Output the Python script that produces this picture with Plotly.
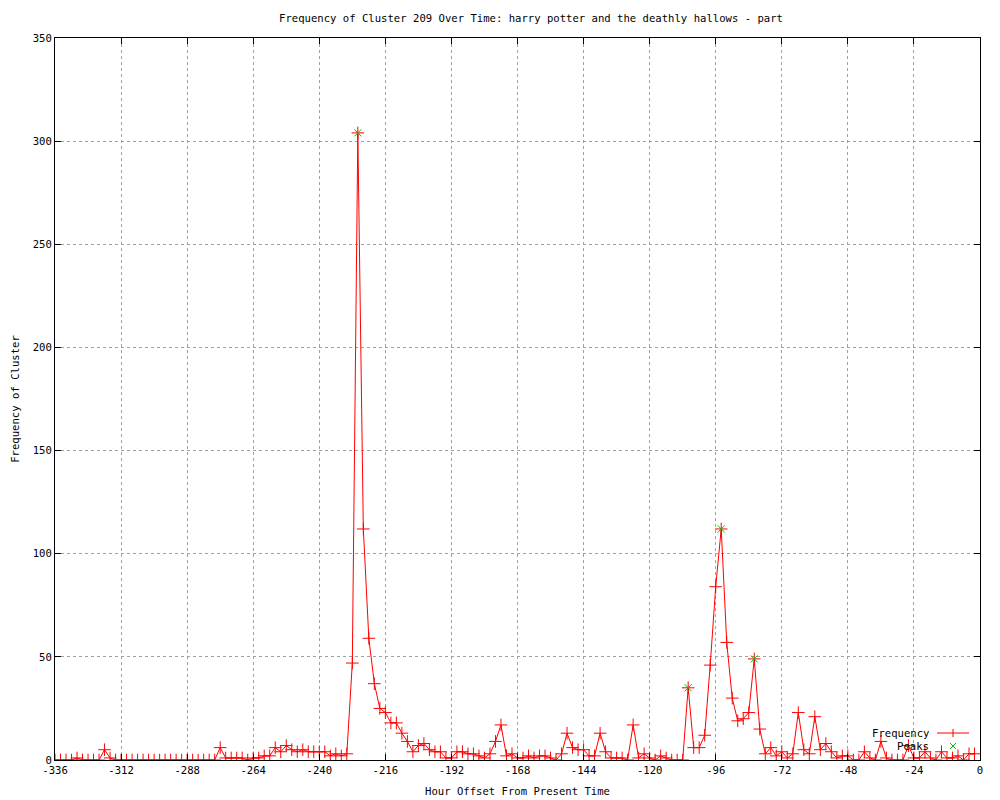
import plotly.graph_objects as go

hours = list(range(-336, 0, 2))
frequency = [
    0, 0, 0, 0, 1, 0, 0, 0, 0, 5, 1, 0, 0,            # -336 .. -312
    0, 0, 0, 0, 0, 0, 0, 0, 0, 0, 0, 0, 0, 0, 0, 0, 0,  # -310 .. -278
    6, 1, 1, 1, 1, 0, 1, 1, 2, 2, 6, 4, 7, 5, 4, 5,     # -276 .. -246
    4, 4, 4, 4, 2, 3, 2, 3, 47, 304, 112, 59, 37, 25,   # -244 .. -218
    23, 18, 18, 13, 9, 4, 7, 8, 5, 4, 4, 1, 1, 4, 4,    # -216 .. -188
    3, 3, 2, 1, 3, 9, 17, 2, 3, 1, 1, 2, 1, 2, 2, 1,    # -186 .. -156
    0, 3, 13, 6, 5, 5, 2, 2, 13, 4, 1, 1, 1, 0, 17, 1,  # -154 .. -124
    3, 1, 0, 2, 1, 0, 0, 0, 35, 6, 6, 12, 46, 84, 112,  # -122 .. -94
    57, 30, 19, 20, 23, 49, 15, 3, 6, 2, 4, 1, 3, 23,   # -92 .. -66
    5, 3, 21, 5, 8, 4, 1, 2, 2, 0, 0, 4, 1, 0, 9, 1,    # -64 .. -34
    0, 0, 0, 7, 1, 1, 4, 1, 0, 4, 1, 1, 2, 0, 3, 3,     # -32 .. -2
]
peak_hours = [-226, -106, -94, -82]
peak_values = [304, 35, 112, 49]

x_ticks = list(range(-336, 1, 24))
y_ticks = list(range(0, 351, 50))

title_text = "Frequency of Cluster 209 Over Time: harry potter and the deathly hallows - part"
FONT = "DejaVu Sans Mono"
FS = 10.6

fig = go.Figure()
fig.add_trace(go.Scatter(
    x=hours, y=frequency, mode="lines+markers", name="Frequency",
    line=dict(color="#ff0000", width=1),
    marker=dict(symbol="cross-thin", size=9, color="#ff0000",
                line=dict(width=1, color="#ff0000")),
    showlegend=False,
))
fig.add_trace(go.Scatter(
    x=peak_hours, y=peak_values, mode="markers", name="Peaks",
    marker=dict(symbol="x-thin", size=7, color="#00c000",
                line=dict(width=1, color="#00c000")),
    showlegend=False,
))

# page is offset by the 8px body margin; plot area in page pixels:
OFF = 8
L, R, T, B = 55, 980, 38, 760
def px(p):
    return (p - L) / (R - L)
def py(q):
    return (B - q) / (B - T)

fig.add_annotation(x=px(931), y=py(733), xref="paper", yref="paper",
                   text="Frequency", showarrow=False, xanchor="right", yanchor="middle",
                   font=dict(family=FONT, size=FS, color="black"))
fig.add_annotation(x=px(931), y=py(746), xref="paper", yref="paper",
                   text="Peaks", showarrow=False, xanchor="right", yanchor="middle",
                   font=dict(family=FONT, size=FS, color="black"))
shapes = [
    dict(type="line", xref="paper", yref="paper", x0=px(937), x1=px(969), y0=py(733), y1=py(733),
         line=dict(color="#ff0000", width=1)),
    dict(type="line", xref="paper", yref="paper", x0=px(953), x1=px(953), y0=py(729), y1=py(737),
         line=dict(color="#ff0000", width=1)),
    dict(type="line", xref="paper", yref="paper", x0=px(950), x1=px(956), y0=py(743), y1=py(749),
         line=dict(color="#00c000", width=1)),
    dict(type="line", xref="paper", yref="paper", x0=px(950), x1=px(956), y0=py(749), y1=py(743),
         line=dict(color="#00c000", width=1)),
]

W, H = 1000, 800
fig.update_layout(
    width=W, height=H,
    paper_bgcolor="white", plot_bgcolor="white",
    margin=dict(l=L - OFF, r=W - (R - OFF), t=T - OFF, b=H - (B - OFF), autoexpand=False),
    font=dict(family=FONT, size=FS, color="black"),
    title=dict(text=title_text, x=(531 - OFF) / W, xanchor="center", xref="container",
               y=1 - (18 - OFF) / H, yanchor="middle",
               font=dict(family=FONT, size=FS, color="black")),
    shapes=shapes,
)
fig.update_xaxes(
    range=[-336, 0], tickvals=x_ticks, ticktext=[str(v) for v in x_ticks],
    showgrid=True, gridcolor="#a0a0a0", griddash="dot", gridwidth=1,
    zeroline=False, showline=True, linecolor="black", linewidth=1, mirror="ticks",
    ticks="inside", ticklen=6, tickcolor="black", automargin=False,
    title=dict(text="Hour Offset From Present Time", standoff=12, font=dict(family=FONT, size=FS)),
    tickfont=dict(family=FONT, size=FS),
)
fig.update_yaxes(
    range=[0, 350], tickvals=y_ticks, ticktext=[str(v) for v in y_ticks],
    showgrid=True, gridcolor="#a0a0a0", griddash="dot", gridwidth=1,
    zeroline=False, showline=True, linecolor="black", linewidth=1, mirror="ticks",
    ticks="inside", ticklen=6, tickcolor="black", automargin=False,
    title=dict(text="Frequency of Cluster", standoff=11, font=dict(family=FONT, size=FS)),
    tickfont=dict(family=FONT, size=FS),
)

fig.write_html("out.html")
